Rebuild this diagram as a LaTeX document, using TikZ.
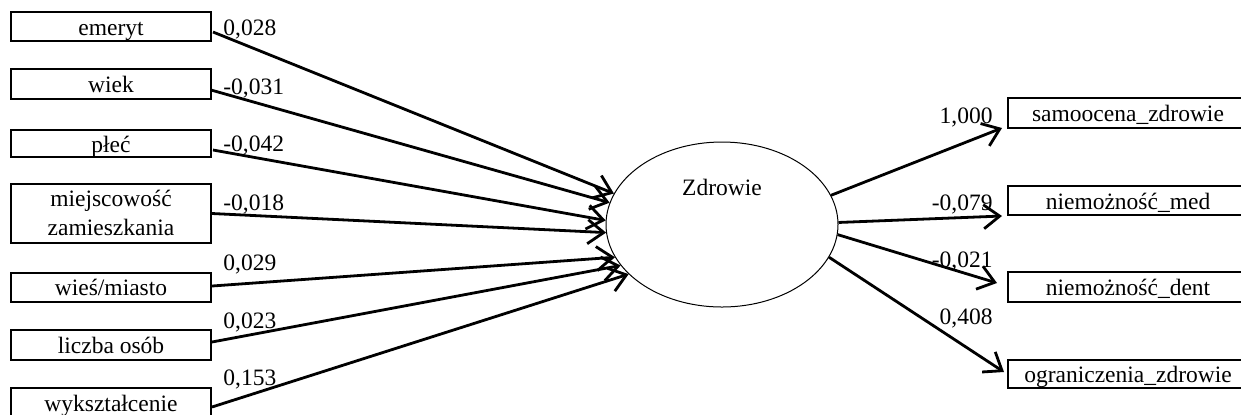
\documentclass[tikz,border=0pt]{standalone}
\usepackage{fontspec}
\setmainfont{Liberation Serif}
\usetikzlibrary{arrows.meta,shapes.geometric,calc}
\begin{document}
\begin{tikzpicture}[x=0.5pt,y=-0.5pt,
  font=\fontsize{11.75}{14.5}\selectfont,
  var/.style={draw, line width=1pt, rectangle, inner sep=0pt,
    minimum width=100pt, minimum height=14.5pt, align=center,
    text height=8.5pt, text depth=0pt},
  outvar/.style={var, minimum width=120pt},
  latent/.style={draw, ellipse, line width=0.5pt, inner sep=0pt,
    minimum width=116pt, minimum height=82.5pt},
  effect/.style={line width=1.4pt, -{Straight Barb[length=8pt,width=12pt]}},
  coef/.style={inner sep=0pt}]
\useasboundingbox (0,0) rectangle (1241,414);
\clip (0,0) rectangle (1241,414);

% observed predictors
\node[var] (emeryt) at (111,26.5) {emeryt};
\node[var, minimum height=15pt] (wiek) at (111,84) {wiek};
\node[var, minimum height=13.5pt] (plec) at (111,143.5) {płeć};
\node[var, minimum height=29.5pt, text height=24.5pt, text depth=3pt]
  (miejsc) at (111,213.5) {miejscowość\\zamieszkania};
\node[var] (wies) at (111,287) {wieś/miasto};
\node[var, minimum height=15pt] (liczba) at (111,345) {liczba osób};
\node[var] (wykszt) at (111,402.5) {wykształcenie};

% latent variable
\node[latent] (zdr) at (722,224.5) {};
\node[coef, anchor=base] (zdrlab) at (722,195) {Zdrowie};

% indicators
\node[outvar, minimum height=15pt] (samo) at (1128,113) {samoocena\_zdrowie};
\node[outvar] (med) at (1128,200.5) {niemożność\_med};
\node[outvar, minimum height=15pt] (dent) at (1128,287) {niemożność\_dent};
\node[outvar, minimum height=14pt] (ogr) at (1128,374) {ograniczenia\_zdrowie};

% structural paths
\draw[effect] ($(emeryt.east)+(1,5.5)$) -- (zdr.164);
\draw[effect] ($(wiek.east)+(-1,6)$) -- (zdr.169);
\draw[effect] ($(plec.east)+(1,6.5)$) -- (zdr.178);
\draw[effect] (miejsc.east) -- (zdr.184);
\draw[effect] ($(wies.east)+(0,-1)$) -- (zdr.197);
\draw[effect] ($(liczba.east)+(0,-3)$) -- (zdr.202);
\draw[effect] ($(wykszt.east)+(0,4.5)$) -- (zdr.208);

% measurement paths
\draw[effect] (zdr.15) -- ($(samo.south west)+(-5,-1)$);
\draw[effect] (zdr.1) -- ($(med.south west)+(-5,0)$);
\draw[effect] (zdr.-5) -- ($(dent.west)+(-10,-4)$);
\draw[effect] (zdr.-17) -- ($(ogr.west)+(-3,-2)$);

% coefficients
\node[coef, anchor=base west] (k1) at (223,35) {0,028};
\node[coef, anchor=base west] (k2) at (223,94) {-0,031};
\node[coef, anchor=base west] (k3) at (223,151) {-0,042};
\node[coef, anchor=base west] (k4) at (223,210) {-0,018};
\node[coef, anchor=base west] (k5) at (223,270) {0,029};
\node[coef, anchor=base west] (k6) at (223,328) {0,023};
\node[coef, anchor=base west] (k7) at (223,385) {0,153};

\node[coef, anchor=base east] (l1) at (993,123) {1,000};
\node[coef, anchor=base east] (l2) at (993,210) {-0,079};
\node[coef, anchor=base east] (l3) at (993,267) {-0,021};
\node[coef, anchor=base east] (l4) at (993,324) {0,408};
\end{tikzpicture}
\end{document}
